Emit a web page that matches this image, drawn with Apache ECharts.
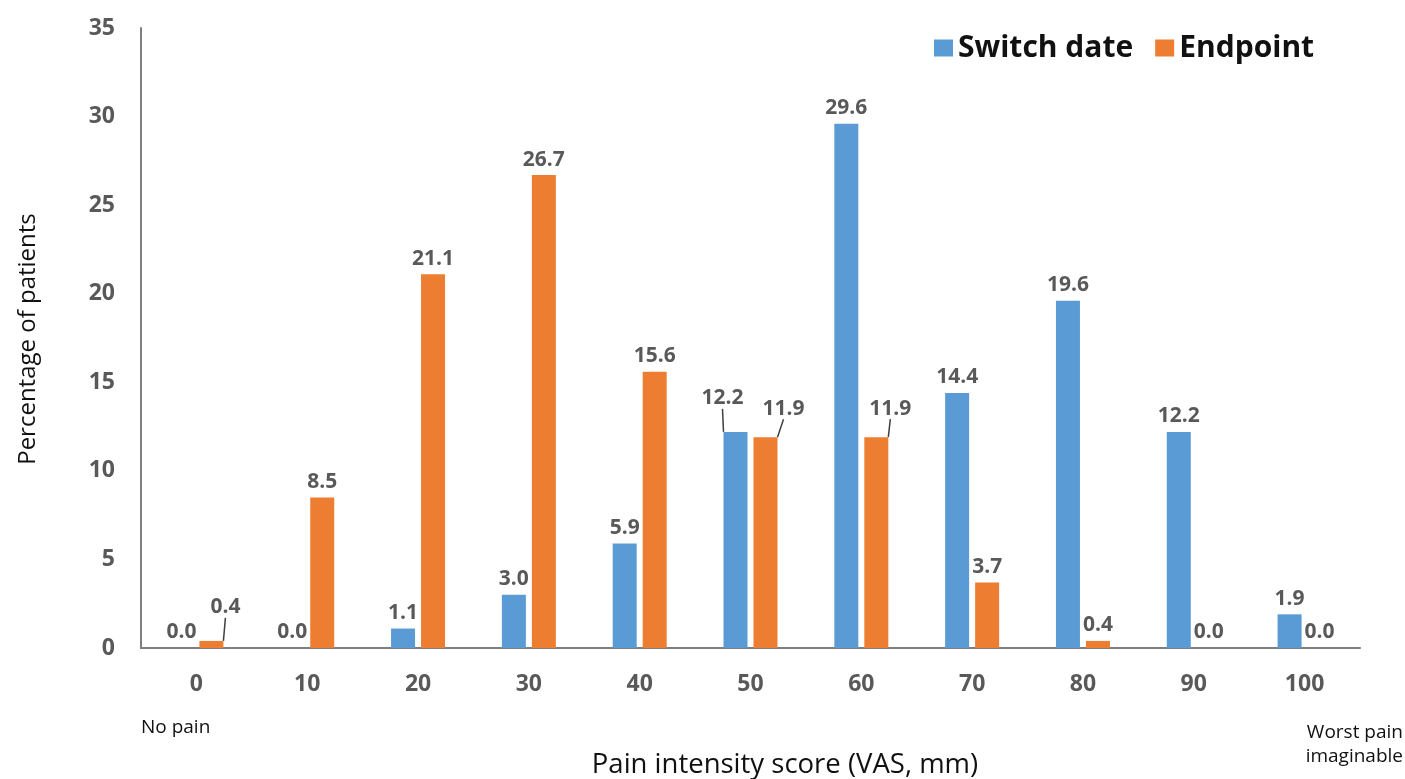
<!DOCTYPE html>
<html>
<head>
<meta charset="utf-8">
<script src="https://cdn.jsdelivr.net/npm/echarts@6/dist/echarts.min.js"></script>
<style>html,body{margin:0;padding:0;background:#fff;}#c{width:1405px;height:779px;}</style>
</head>
<body>
<div id="c"></div>
<script>
var categories = ['0','10','20','30','40','50','60','70','80','90','100'];
var switchDate = [0.0, 0.0, 1.1, 3.0, 5.9, 12.2, 29.6, 14.4, 19.6, 12.2, 1.9];
var endpoint   = [0.4, 8.5, 21.1, 26.7, 15.6, 11.9, 11.9, 3.7, 0.4, 0.0, 0.0];
var yTicks = [0, 5, 10, 15, 20, 25, 30, 35];

// label nudges (with leader lines) keyed by series index and category index
var labelNudges = {
  '0-5': [-13, -18],
  '1-0': [14, -18],
  '1-5': [18, -13],
  '1-6': [14, -13]
};

var FONT = 'Open Sans';
var chart = echarts.init(document.getElementById('c'), null, {renderer: 'canvas'});

function mkData(arr, si) {
  return arr.map(function (v, i) {
    var k = si + '-' + i;
    if (labelNudges[k]) {
      return {value: v, labelLine: {show: true, lineStyle: {color: '#404040', width: 1.5}}};
    }
    return v;
  });
}

var labelStyle = {
  show: true, position: 'top', distance: 5,
  formatter: function (p) { return Number(p.value).toFixed(1); },
  fontFamily: FONT, fontWeight: 'bold', fontSize: 21, color: '#595959'
};

function nudge(si) {
  return function (p) {
    var k = si + '-' + p.dataIndex;
    if (labelNudges[k]) return {dx: labelNudges[k][0], dy: labelNudges[k][1]};
    return {};
  };
}

chart.setOption({
  animation: false,
  backgroundColor: '#fff',
  grid: {left: 141, right: 45, top: 28, bottom: 131, containLabel: false},
  legend: {
    left: 929, top: 28, itemWidth: 19, itemHeight: 17, itemGap: 22,
    icon: 'rect',
    textStyle: {fontFamily: FONT, fontWeight: 'bold', fontSize: 30, color: '#111'},
    data: ['Switch date', 'Endpoint']
  },
  xAxis: {
    type: 'category', data: categories,
    axisLine: {lineStyle: {color: '#7f7f7f', width: 2}},
    axisTick: {show: false},
    axisLabel: {margin: 25, fontFamily: FONT, fontWeight: 'bold', fontSize: 23, color: '#595959'}
  },
  yAxis: {
    type: 'value', min: 0, max: 35, interval: 5,
    axisLine: {show: true, lineStyle: {color: '#7f7f7f', width: 2}},
    axisTick: {show: false},
    splitLine: {show: false},
    axisLabel: {margin: 26, fontFamily: FONT, fontWeight: 'bold', fontSize: 23, color: '#595959',
      customValues: yTicks}
  },
  series: [
    {name: 'Switch date', type: 'bar', data: mkData(switchDate, 0), barWidth: 24, barGap: '25%',
      itemStyle: {color: '#5B9BD5'}, label: labelStyle,
      labelLine: {lineStyle: {color: '#404040', width: 1.5}},
      labelLayout: nudge(0)},
    {name: 'Endpoint', type: 'bar', data: mkData(endpoint, 1), barWidth: 24, barGap: '25%',
      itemStyle: {color: '#ED7D31'}, label: labelStyle,
      labelLine: {lineStyle: {color: '#404040', width: 1.5}},
      labelLayout: nudge(1)}
  ],
  graphic: [
    {type: 'text', rotation: Math.PI / 2, position: [28, 339],
      style: {text: 'Percentage of patients', fontFamily: FONT, fontSize: 24, fill: '#111',
        textAlign: 'center', textVerticalAlign: 'middle'}},
    {type: 'text', position: [785, 765],
      style: {text: 'Pain intensity score (VAS, mm)', fontFamily: FONT, fontSize: 27.5, fill: '#111',
        textAlign: 'center', textVerticalAlign: 'middle'}},
    {type: 'text', position: [141, 728],
      style: {text: 'No pain', fontFamily: FONT, fontSize: 19, fill: '#111',
        textAlign: 'left', textVerticalAlign: 'middle'}},
    {type: 'text', position: [1403, 733],
      style: {text: 'Worst pain', fontFamily: FONT, fontSize: 19, fill: '#111',
        textAlign: 'right', textVerticalAlign: 'middle'}},
    {type: 'text', position: [1403, 757],
      style: {text: 'imaginable', fontFamily: FONT, fontSize: 19, fill: '#111',
        textAlign: 'right', textVerticalAlign: 'middle'}}
  ]
});
</script>
</body>
</html>
